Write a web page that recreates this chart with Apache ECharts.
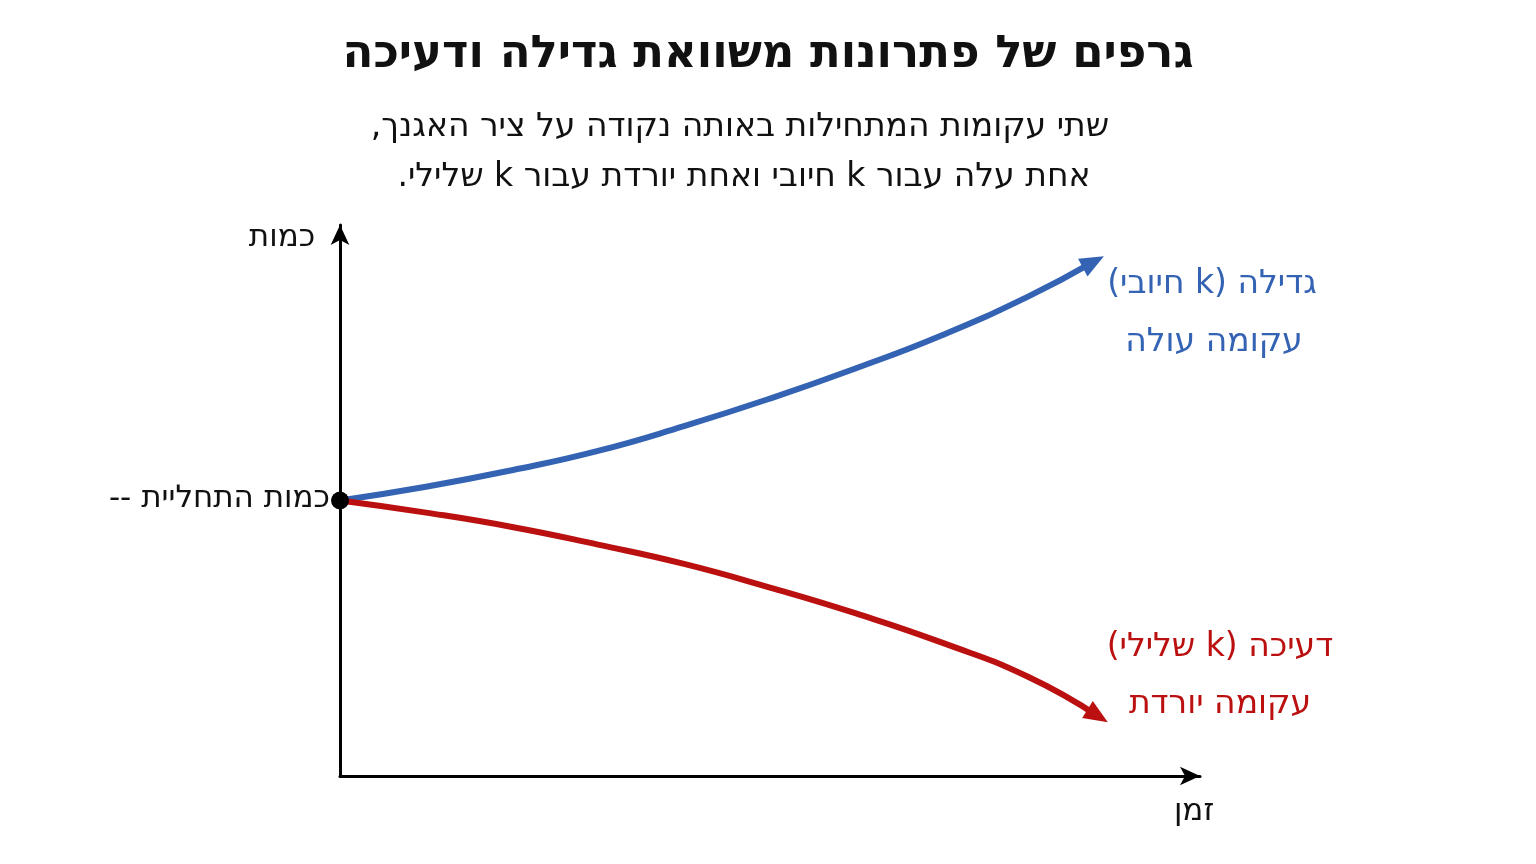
<!DOCTYPE html>
<html><head><meta charset="utf-8">
<script src="https://cdn.jsdelivr.net/npm/echarts@6/dist/echarts.min.js"></script>
<style>html,body{margin:0;padding:0;background:#fff}#c{width:1536px;height:864px}</style>
</head><body><div id="c" dir="rtl"></div>
<script>
const growthX = [0, 1, 2, 3, 4, 5, 6, 7, 8, 8.76];
const growthY = [5, 5.25, 5.55, 5.9, 6.35, 6.85, 7.4, 8.0, 8.7, 9.33];
const decayX = [0, 1, 2, 3, 4, 5, 6, 7, 8, 8.81];
const decayY = [5, 4.78, 4.52, 4.2, 3.85, 3.42, 2.95, 2.42, 1.8, 1.09];
const startPoint = [0, 5];
const F = '"DejaVu Sans","Noto Sans",sans-serif';
const pair = (xs, ys) => xs.map((x, i) => [x, ys[i]]);
const chart = echarts.init(document.getElementById('c'));
const txt = (x, y, t, size, color, align, bold) => ({type:'text', x, y, style:{text:t, font:(bold?'bold ':'')+size+'px '+F, fill:color, align:align||'center', verticalAlign:'middle'}});
chart.setOption({
  animation:false,
  title:{text:'גרפים של פתרונות משוואת גדילה ודעיכה', left:'center', top:28, textStyle:{fontFamily:F, fontSize:45, fontWeight:'bold', color:'#111'}},
  grid:{left:340, top:225, width:860, bottom:88},
  xAxis:{type:'value', min:0, max:10, axisLine:{show:true, onZero:false, symbol:['none','arrow'], symbolSize:[14,20], lineStyle:{color:'#000', width:3}}, axisTick:{show:false}, axisLabel:{show:false}, splitLine:{show:false}},
  yAxis:{type:'value', min:0, max:10, axisLine:{show:true, onZero:false, symbol:['none','arrow'], symbolSize:[14,20], lineStyle:{color:'#000', width:3}}, axisTick:{show:false}, axisLabel:{show:false}, splitLine:{show:false}},
  series:[
    {type:'line', data:pair(growthX, growthY), smooth:true, symbol:'none', lineStyle:{color:'#3463b4', width:6}},
    {type:'line', data:pair(decayX, decayY), smooth:true, symbol:'none', lineStyle:{color:'#bb1010', width:6}},
    {type:'scatter', data:[[growthX[growthX.length-1], growthY[growthY.length-1]]], symbol:'triangle', symbolSize:[20,24], symbolRotate:-62, itemStyle:{color:'#3463b4', opacity:1}, z:5},
    {type:'scatter', data:[[decayX[decayX.length-1], decayY[decayY.length-1]]], symbol:'triangle', symbolSize:[20,24], symbolRotate:-122, itemStyle:{color:'#bb1010', opacity:1}, z:5},
    {type:'scatter', data:[startPoint], symbol:'circle', symbolSize:18, itemStyle:{color:'#000', opacity:1}, z:6}
  ],
  graphic:[
    txt(740, 127, 'שתי עקומות המתחילות באותה נקודה על ציר האגנך,', 33, '#111'),
    txt(744, 177, 'אחת עלה עבור k חיובי ואחת יורדת עבור k שלילי.', 33, '#111'),
    txt(282, 238, 'כמות', 31, '#111'),
    txt(1194, 812, 'זמן', 31, '#111'),
    txt(330, 499, 'כמות התחליית --', 31, '#111', 'right'),
    txt(1212, 284, 'גדילה (k חיובי)', 33, '#3463b4'),
    txt(1214, 342, 'עקומה עולה', 33, '#3463b4'),
    txt(1220, 647, 'דעיכה (k שלילי)', 33, '#bb1010'),
    txt(1220, 704, 'עקומה יורדת', 33, '#bb1010')
  ]
});
</script></body></html>
